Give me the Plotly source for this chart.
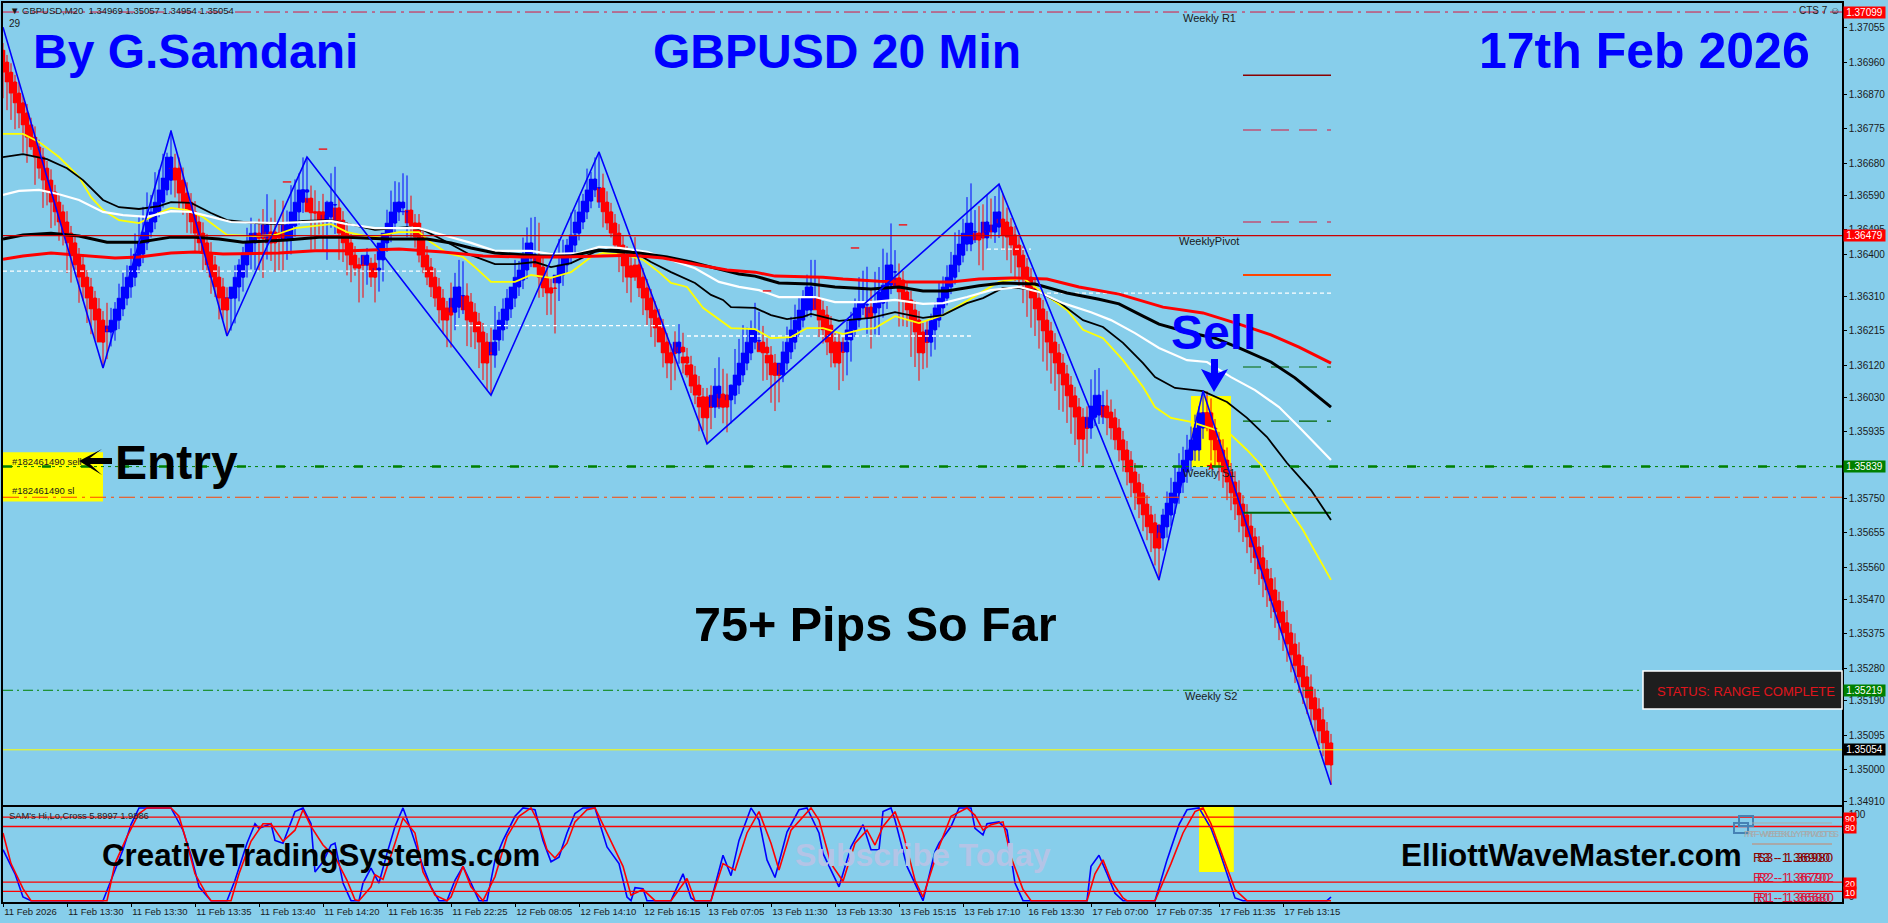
import plotly.graph_objects as go

# all prices below are in points, 36960 means 1.36960
opens = [
36993,36960,36932,36905,36874,36847,36819,36786,36752,36725,
36697,36666,36633,36600,36572,36545,36517,36486,36459,36425,
36398,36364,36337,36306,36276,36245,36218,36212,36218,36245,
36276,36306,36337,36364,36395,36428,36459,36489,36517,36545,
36572,36606,36633,36666,36666,36633,36597,36572,36545,36517,
36486,36459,36431,36398,36364,36337,36306,36306,36306,36337,
36364,36398,36431,36459,36486,36473,36473,36489,36489,36486,
36486,36467,36467,36506,36545,36572,36600,36583,36545,36545,
36545,36517,36531,36564,36556,36522,36486,36459,36425,36398,
36398,36398,36398,36403,36384,36412,36459,36486,36514,36545,
36556,36545,36550,36514,36514,36475,36425,36392,36364,36337,
36306,36273,36279,36267,36281,36312,36312,36295,36267,36240,
36212,36184,36154,36148,36190,36218,36245,36276,36306,36337,
36356,36384,36417,36425,36425,36392,36364,36334,36334,36348,
36370,36398,36425,36453,36486,36517,36545,36575,36606,36611,
36611,36572,36545,36514,36486,36453,36425,36395,36395,36398,
36364,36334,36306,36273,36251,36223,36184,36154,36154,36154,
36170,36143,36121,36093,36065,36032,36032,36004,36004,36029,
36040,36037,36024,36037,36065,36093,36126,36154,36184,36187,
36184,36170,36148,36126,36093,36093,36126,36157,36184,36218,
36245,36273,36273,36306,36306,36273,36259,36231,36184,36184,
36157,36157,36190,36218,36245,36279,36287,36281,36265,36279,
36292,36301,36342,36378,36362,36356,36323,36301,36273,36245,
36212,36184,36184,36218,36245,36279,36306,36337,36364,36398,
36425,36456,36456,36489,36486,36486,36473,36492,36489,36503,
36525,36517,36503,36481,36453,36425,36392,36364,36334,36306,
36276,36245,36215,36184,36154,36126,36096,36065,36035,36004,
35976,35946,35946,35976,35982,36007,36007,35990,35974,35946,
35913,35885,35857,35824,35794,35766,35735,35705,35683,35655,
35641,35672,35705,35738,35766,35796,35824,35857,35885,35885,
35946,35988,35988,35946,35913,35885,35857,35824,35796,35766,
35735,35705,35674,35644,35616,35586,35555,35528,35497,35467,
35436,35406,35378,35347,35317,35287,35256,35228,35198,35167,
35137,35106,35073]
closes = [
36960,36932,36905,36874,36847,36819,36786,36752,36725,36697,
36666,36633,36600,36572,36545,36517,36486,36459,36425,36398,
36364,36337,36306,36276,36245,36184,36217,36229,36245,36276,
36306,36337,36364,36395,36428,36459,36489,36517,36545,36572,
36606,36639,36697,36665,36633,36597,36572,36545,36517,36486,
36459,36431,36398,36364,36337,36306,36273,36307,36337,36364,
36398,36431,36459,36486,36473,36472,36509,36459,36459,36473,
36473,36509,36509,36545,36572,36606,36606,36545,36542,36542,
36522,36536,36572,36565,36522,36486,36459,36425,36398,36389,
36397,36425,36397,36364,36389,36459,36486,36514,36545,36572,
36572,36546,36514,36506,36475,36425,36392,36364,36337,36306,
36273,36245,36259,36306,36337,36313,36273,36245,36240,36212,
36184,36126,36153,36184,36218,36245,36276,36306,36337,36364,
36384,36417,36459,36426,36392,36364,36334,36320,36333,36370,
36398,36425,36453,36481,36517,36545,36575,36606,36636,36612,
36572,36545,36514,36486,36453,36425,36395,36364,36394,36364,
36334,36306,36273,36251,36223,36184,36154,36126,36153,36184,
36157,36126,36093,36062,36037,36004,35974,36003,36037,36062,
36004,36004,36037,36065,36093,36126,36154,36184,36218,36188,
36157,36154,36126,36093,36092,36126,36157,36184,36218,36245,
36273,36306,36337,36307,36273,36245,36218,36184,36154,36126,
36156,36184,36218,36245,36279,36292,36288,36251,36279,36292,
36323,36342,36398,36379,36337,36323,36301,36273,36245,36212,
36154,36183,36218,36245,36279,36306,36337,36364,36398,36425,
36456,36486,36514,36490,36467,36473,36517,36491,36509,36545,
36514,36481,36475,36453,36425,36392,36364,36334,36306,36276,
36245,36215,36184,36154,36126,36096,36065,36035,36004,35976,
35915,35945,35976,36007,36037,36008,35976,35974,35946,35913,
35885,35857,35824,35794,35766,35735,35705,35672,35655,35613,
35677,35705,35738,35766,35796,35824,35857,35885,35913,35946,
35988,35987,35946,35913,35885,35852,35824,35796,35766,35735,
35705,35674,35644,35616,35586,35555,35528,35497,35467,35436,
35406,35378,35347,35317,35287,35256,35228,35198,35167,35137,
35106,35073,35012]
wick_up = [
20,20,25,20,30,20,25,20,30,20,25,20,30,20,25,20,30,20,25,20,30,20,25,20,30,25,
75,50,50,70,70,60,80,90,105,100,110,75,110,90,100,70,75,
40,30,35,30,25,30,25,30,25,30,25,30,25,30,
30,60,50,50,70,70,30,40,80,85,40,90,30,90,40,110,90,80,90,90,35,60,30,50,40,80,105,
25,25,30,25,25,20,25,20,20,25,30,25,65,90,85,55,80,100,40,25,25,25,25,25,25,25,25,25,
70,70,75,95,35,25,25,25,25,25,70,100,50,60,55,30,75,45,90,85,70,105,90,30,30,30,30,100,70,45,90,70,70,50,90,50,60,100,
40,30,25,25,25,25,25,25,80,25,25,25,25,25,25,25,25,25,60,50,40,25,25,25,25,25,25,60,75,80,
70,60,30,100,100,105,70,60,75,80,45,25,25,25,30,60,70,70,70,65,55,65,75,105,60,25,25,25,25,25,
40,60,50,60,85,90,105,50,100,100,120,90,115,
60,40,25,25,25,25,25,25,60,45,50,70,60,60,70,90,70,70,100,110,60,75,80,75,90,80,75,
70,40,25,25,25,25,25,25,25,25,25,25,25,25,25,25,25,25,25,25,25,60,105,100,75,40,45,35,25,25,25,25,
25,25,25,25,25,25,25,25,
45,65,70,75,80,70,70,65,70,60,60,
60,40,25,25,30,35,25,30,35,25,30,35,25,30,35,25,30,35,25,30,35,25,30,35,25,30,35,25,30,35,25,25]
wick_dn = [
100,105,105,100,70,110,105,35,105,60,110,70,100,65,80,65,110,110,40,105,65,100,100,85,55,70,
80,40,30,25,20,20,30,25,20,25,20,15,20,15,15,15,40,
80,80,60,85,60,85,55,75,55,80,55,90,60,70,
90,70,40,40,35,45,75,90,110,60,50,80,90,90,55,40,30,35,30,30,105,100,60,85,105,30,80,
110,80,90,75,30,95,90,55,60,70,60,60,25,25,25,25,20,70,40,60,70,50,50,55,55,70,65,75,
90,50,30,50,100,75,75,100,105,75,115,35,30,30,25,25,25,25,25,25,25,25,85,55,75,60,125,50,30,25,25,25,20,20,20,20,20,55,
70,50,40,40,75,75,75,70,40,55,75,75,75,80,25,70,70,75,75,30,60,40,50,50,100,65,70,60,30,30,
45,70,65,25,25,20,20,20,20,25,80,75,110,100,75,20,20,20,20,20,20,20,20,30,75,65,70,70,40,75,
80,65,60,20,20,20,80,85,60,80,40,25,25,
40,110,95,75,130,130,135,45,70,40,55,20,20,20,20,20,20,20,20,20,30,70,90,30,20,30,30,
75,70,100,100,85,100,110,110,105,110,115,110,115,105,130,105,105,105,105,125,75,70,30,25,25,50,50,60,60,60,60,70,
70,75,70,75,70,70,90,90,
35,30,30,30,30,30,30,30,30,30,30,
50,90,70,85,72,78,78,75,78,75,75,72,75,75,78,78,78,75,78,78,80,78,78,75,75,75,75,75,70,70,20,55]

zigzag_bar = [0,25,42,56,76,122,149,176,249,289,300,332]
zigzag_pts = [37057,36112,36769,36201,36697,36037,36711,35902,36622,35525,36049,34957]

yellow_bar = [0,5,9,14,19,22,25,29,34,39,42,46,50,56,63,68,73,76,82,86,92,99,104,107,111,115,118,122,128,132,137,142,147,150,156,160,164,167,171,175,178,182,188,192,197,201,205,210,215,218,223,229,235,240,244,249,255,260,266,270,275,280,285,288,292,297,307,311,315,320,325,332]
yellow_pts = [36761,36761,36739,36697,36642,36586,36550,36522,36514,36542,36556,36550,36531,36481,36478,36481,36500,36503,36511,36489,36475,36489,36489,36461,36431,36420,36392,36351,36351,36370,36362,36378,36420,36431,36425,36412,36378,36348,36337,36279,36254,36223,36220,36195,36198,36223,36223,36206,36220,36223,36256,36237,36259,36292,36320,36351,36362,36320,36273,36218,36195,36134,36060,36004,35974,35963,35927,35885,35838,35746,35663,35525]
black_thin_bar = [0,5,11,16,20,25,29,34,39,42,47,52,56,63,69,75,82,87,93,98,101,105,110,117,123,128,133,137,142,148,152,157,162,167,173,177,180,182,188,192,196,200,202,209,217,223,230,235,241,245,250,254,258,264,270,275,280,285,288,293,300,306,311,316,321,327,332]
black_thin_pts = [36697,36705,36691,36666,36633,36578,36558,36553,36561,36572,36570,36542,36522,36514,36511,36520,36522,36509,36495,36500,36503,36495,36467,36425,36400,36400,36406,36392,36403,36434,36442,36439,36406,36378,36348,36315,36301,36281,36279,36259,36248,36254,36262,36243,36251,36267,36251,36259,36292,36306,36334,36334,36328,36295,36245,36226,36182,36126,36087,36057,36048,36018,35974,35921,35849,35774,35691]
white_bar = [0,4,9,14,19,25,30,36,42,47,52,57,69,75,82,86,93,99,104,110,117,123,132,137,144,149,154,161,167,173,179,184,189,194,203,208,217,223,230,235,241,247,254,259,265,272,277,283,289,296,301,307,313,319,324,332]
white_pts = [36592,36603,36606,36594,36578,36545,36536,36531,36547,36545,36531,36517,36514,36517,36520,36511,36500,36500,36500,36481,36459,36437,36437,36428,36431,36448,36445,36434,36412,36389,36351,36337,36328,36309,36309,36295,36295,36301,36290,36292,36309,36328,36337,36323,36292,36267,36245,36209,36168,36134,36129,36087,36051,36004,35949,35857]
black_thick_bar = [0,5,12,19,26,34,42,48,54,60,71,79,86,96,106,112,117,123,134,142,149,159,166,172,178,184,188,194,202,208,217,224,230,236,244,250,258,266,274,279,285,289,296,303,309,317,323,332]
black_thick_pts = [36470,36481,36486,36478,36461,36461,36475,36475,36470,36461,36467,36475,36475,36470,36470,36459,36445,36431,36423,36423,36439,36431,36420,36406,36389,36373,36367,36348,36345,36337,36331,36337,36326,36326,36340,36348,36345,36320,36303,36290,36256,36234,36212,36195,36168,36129,36085,36004]
red_thick_bar = [0,5,12,21,28,34,42,48,55,69,78,87,99,110,120,130,140,157,165,174,181,188,193,205,210,219,227,237,244,252,261,269,279,290,300,309,317,324,332]
red_thick_pts = [36414,36423,36431,36423,36417,36420,36431,36434,36428,36431,36437,36437,36442,36434,36423,36420,36420,36425,36417,36398,36384,36378,36367,36364,36359,36353,36351,36351,36359,36362,36359,36337,36317,36281,36265,36234,36204,36170,36126]

# dotted white levels, None breaks the line
white_lvl_bar = [0,110,None,113,168,None,171,242,None,246,257,None,261,332]
white_lvl_pts = [36381,36381,None,36230,36230,None,36201,36201,None,36442,36442,None,36320,36320]
tick_marks_bar = [80,71,225,213,191]
tick_marks_pts = [36719,36628,36509,36445,36326]

# weekly pivot stubs at the right of the candles
stub_bar = [310,332]
stub_levels = [
    (36924,"#8B0000","solid",1.5),
    (36772,"#DC143C","dash",1.2),
    (36517,"#DC143C","dash",1.2),
    (36370,"#FF4500","solid",2),
    (36115,"#006400","dash",1.2),
    (35965,"#006400","dash",1.2),
    (35711,"#006400","solid",2),
]

last_price = 1.35054
sl_price = 1.35754
entry_price = 1.35839
tp_price = 1.35219
pivot_price = 1.36479
top_price = 1.37099

blue_bar = [0,3,5,7,25,27,30,32,34,42,45,47,49,52,56,58,61,63,64,67,68,70,73,75,77,78,80,82,83,85,87,89,90,92,94,96,98,100,102,105,107,109,111,113,115,117,119,121,123,125,128,130,133,135,137,139,141,143,145,148,151,154,156,157,158,160,161,167,170,172,173,177,180,182,184,187,189,191,193,196,199,201,204,205,209,212,215,217,219,220,222,223,226,230,233,234,237,239,242,243,245,246,249,251,253,255,271,272,274,276,278,280,288,291,294,296,299,302,304,306,308,310,331,332]
blue_val = [55,29,4,0,0,22,55,82,100,100,76,49,15,0,0,22,62,83,78,83,65,62,96,100,83,31,42,60,62,19,0,0,19,35,19,51,80,100,76,37,15,0,0,22,37,19,0,0,44,65,91,100,98,65,42,47,73,94,100,100,58,40,4,0,14,13,0,0,29,3,0,0,49,27,65,100,87,44,25,74,98,100,73,51,15,58,82,55,55,96,100,87,37,0,53,62,80,100,100,78,71,83,85,76,19,0,0,37,49,29,8,0,0,44,82,98,100,78,55,29,3,0,0,4]
red_bar = [0,2,5,7,26,28,31,34,36,42,44,46,48,51,52,57,59,62,65,67,70,73,75,77,80,83,86,88,89,92,93,95,98,100,103,105,108,111,112,115,117,120,123,126,129,132,134,136,138,141,143,146,148,152,155,157,160,163,167,171,173,177,180,183,186,189,192,194,197,202,204,207,210,213,216,218,220,223,225,228,230,234,237,241,243,245,247,250,252,255,257,271,273,275,277,280,281,288,292,295,298,300,302,305,308,311,332]
red_val = [73,40,13,0,0,40,69,94,100,100,91,62,29,6,0,0,29,64,83,83,64,76,98,80,60,47,22,1,0,15,28,23,62,89,73,31,6,0,4,37,15,0,26,69,91,100,83,55,46,62,85,98,100,65,37,6,12,0,0,24,0,0,40,33,73,96,62,33,76,100,87,40,21,62,76,60,80,96,73,22,4,58,91,100,92,76,82,85,47,12,0,0,29,44,22,3,0,0,40,73,96,100,83,47,12,0,0]
osc_levels = [90,80,20,10]

x_tick_bar = [0,16,32,48,64,80,96,112,128,144,160,176,192,208,224,240,256,272,288,304,320]
x_tick_text = ["11 Feb 2026","11 Feb 13:30","11 Feb 13:30","11 Feb 13:35","11 Feb 13:40","11 Feb 14:20","11 Feb 16:35","11 Feb 22:25","12 Feb 08:05","12 Feb 14:10","12 Feb 16:15","13 Feb 07:05","13 Feb 11:30","13 Feb 13:30","13 Feb 15:15","13 Feb 17:10","16 Feb 13:30","17 Feb 07:00","17 Feb 07:35","17 Feb 11:35","17 Feb 13:15"]
y_tick_val = [1.37055,1.36960,1.36870,1.36775,1.36680,1.36590,1.36495,1.36426,1.36310,1.36215,1.36120,1.36030,1.35935,1.35750,1.35655,1.35560,1.35470,1.35375,1.35280,1.35190,1.35095,1.35000,1.34910]
y_tick_text = ["1.37055","1.36960","1.36870","1.36775","1.36680","1.36590","1.36495","1.36400","1.36310","1.36215","1.36120","1.36030","1.35935","1.35750","1.35655","1.35560","1.35470","1.35375","1.35280","1.35190","1.35095","1.35000","1.34910"]

assert len(opens) == len(closes) == len(wick_up) == len(wick_dn) == 333
assert len(blue_bar) == len(blue_val) and len(red_bar) == len(red_val)


def price(p):
    return None if p is None else 1 + p / 100000


def pxx(v):
    return v / 1888


def pxy(v):
    return 1 - v / 923


BG = "#87CEEB"
ARIAL = "Liberation Sans, Arial, sans-serif"

bars = list(range(len(opens)))
o = [price(v) for v in opens]
c = [price(v) for v in closes]
h = [price(max(a, b) + u) for a, b, u in zip(opens, closes, wick_up)]
l = [price(min(a, b) - d) for a, b, d in zip(opens, closes, wick_dn)]

fig = go.Figure()

# thick bodies, wider than the bar spacing, sit left of the wick like in the terminal
body_col = ["#0000FF" if b > a else "#FF0000" for a, b in zip(opens, closes)]
fig.add_trace(go.Bar(x=bars, base=[min(a, b) for a, b in zip(o, c)], y=[abs(a - b) for a, b in zip(o, c)],
                     width=2, offset=-1.5, marker=dict(color=body_col, line=dict(color=body_col, width=0.5))))
fig.add_trace(go.Candlestick(x=bars, open=o, high=h, low=l, close=c, whiskerwidth=0,
                             increasing=dict(line=dict(color="#0000FF", width=1), fillcolor="#0000FF"),
                             decreasing=dict(line=dict(color="#FF0000", width=1), fillcolor="#FF0000")))


def line(xs, ys, color, width, dash="solid", xaxis="x", yaxis="y"):
    fig.add_trace(go.Scatter(x=xs, y=ys, mode="lines", line=dict(color=color, width=width, dash=dash),
                             xaxis=xaxis, yaxis=yaxis, connectgaps=False))


line(white_lvl_bar, [price(v) for v in white_lvl_pts], "white", 1.3, "4px,3px")
for lv, col, ds, w in stub_levels:
    line(stub_bar, [price(lv), price(lv)], col, w, "18px,10px" if ds == "dash" else "solid")
line(yellow_bar, [price(v) for v in yellow_pts], "#FFFF00", 1.8)
line(black_thin_bar, [price(v) for v in black_thin_pts], "black", 1.8)
line(white_bar, [price(v) for v in white_pts], "white", 2.2)
line(black_thick_bar, [price(v) for v in black_thick_pts], "black", 3)
line(red_thick_bar, [price(v) for v in red_thick_pts], "#FF0000", 3)
line(zigzag_bar, [price(v) for v in zigzag_pts], "#0000FF", 1.6)

fig.add_trace(go.Scatter(x=tick_marks_bar, y=[price(v) for v in tick_marks_pts], mode="markers",
                         marker=dict(symbol="line-ew", size=6, line=dict(color="#FF0000", width=1.3))))
fig.add_trace(go.Scatter(x=[302], y=[entry_price], mode="markers",
                         marker=dict(symbol="star", size=7, color="#FF0000")))

line(blue_bar, blue_val, "#0000FF", 1.6, xaxis="x2", yaxis="y2")
line(red_bar, red_val, "#FF0000", 1.6, xaxis="x2", yaxis="y2")

shapes = []


def hline(y, color, width, dash="solid"):
    shapes.append(dict(type="line", xref="paper", yref="y", x0=pxx(3), x1=pxx(1842), y0=y, y1=y,
                       line=dict(color=color, width=width, dash=dash)))


def polygon(points, color):
    path = "M " + " L ".join("%f,%f" % (pxx(a), pxy(b)) for a, b in points) + " Z"
    shapes.append(dict(type="path", xref="paper", yref="paper", path=path, fillcolor=color, line=dict(width=0)))


hline(top_price, "#DC143C", 1, "16px,5px,3px,5px")
hline(pivot_price, "#CC0000", 1.2)
hline(entry_price, "#008000", 1, "3px,4px")
hline(entry_price, "#008000", 2.5, "9px,30px")
hline(sl_price, "#FF4500", 1, "16px,5px,3px,5px")
hline(tp_price, "#008000", 1, "10px,4px,2px,4px")
hline(last_price, "#FFFF00", 1)

shapes.append(dict(type="rect", xref="x", yref="y", x0=297, x1=307, y0=1.35838, y1=1.36035, layer="below",
                   fillcolor="#FFFF00", line=dict(width=0)))
shapes.append(dict(type="rect", xref="x", yref="y", x0=0, x1=25, y0=1.35742, y1=1.35879, layer="below",
                   fillcolor="#FFFF00", line=dict(width=0)))
shapes.append(dict(type="rect", xref="x2", yref="y2", x0=299, x1=307.7, y0=31, y1=101, layer="below",
                   fillcolor="#FFFF00", line=dict(width=0)))
for lv in osc_levels:
    shapes.append(dict(type="line", xref="paper", yref="y2", x0=pxx(3), x1=pxx(1842), y0=lv, y1=lv,
                       line=dict(color="#FF0000", width=1.3)))
# status box
shapes.append(dict(type="rect", xref="paper", yref="paper", x0=pxx(1643), x1=pxx(1842), y0=pxy(709), y1=pxy(671),
                   fillcolor="#1E1E1E", line=dict(color="white", width=1.5)))
# pivot panel bits, bottom right
shapes.append(dict(type="rect", xref="paper", yref="paper", x0=pxx(1739), x1=pxx(1753), y0=pxy(826), y1=pxy(816),
                   line=dict(color="#4682B4", width=2)))
shapes.append(dict(type="rect", xref="paper", yref="paper", x0=pxx(1734), x1=pxx(1748), y0=pxy(833), y1=pxy(823),
                   line=dict(color="#4682B4", width=2)))
shapes.append(dict(type="line", xref="paper", yref="paper", x0=pxx(1752), x1=pxx(1832), y0=pxy(823), y1=pxy(823),
                   line=dict(color="#A9A9A9", width=1)))
shapes.append(dict(type="line", xref="paper", yref="paper", x0=pxx(1752), x1=pxx(1832), y0=pxy(844), y1=pxy(844),
                   line=dict(color="#A9A9A9", width=2)))
# the two hand drawn arrows
polygon([(1211, 359), (1218, 359), (1218, 373), (1228, 369), (1214, 392), (1201, 369), (1211, 373)], "#0000FF")
polygon([(79, 461), (102, 449), (90, 458), (112, 458), (112, 464), (90, 464), (102, 475)], "black")

notes = []


def text(x, y, s, size, color="black", bold=False, family=ARIAL, anchor="left", **kw):
    notes.append(dict(xref="paper", yref="paper", x=pxx(x), y=pxy(y), text="<b>%s</b>" % s if bold else s,
                      showarrow=False, xanchor=anchor, yanchor="middle",
                      font=dict(size=size, color=color, family=family), **kw))


text(31, 51, "By G.Samdani", 48, "#0000FF", True)
text(837, 51, "GBPUSD 20 Min", 48, "#0000FF", True, anchor="center")
text(1644, 51, "17th Feb 2026", 50, "#0000FF", True, anchor="center")
text(1213, 332, "Sell", 48, "#0000FF", True, anchor="center")
text(113, 463, "Entry", 48, "black", True)
text(875, 624, "75+ Pips So Far", 48.5, "black", True, anchor="center")
text(100, 855, "CreativeTradingSystems.com", 31.3, "black", True)
text(1399, 855, "ElliottWaveMaster.com", 31.4, "black", True)
text(793, 855, "Subscribe Today", 32, "#B4C4E6", True)

text(8, 11, "\u25bc GBPUSD,M20  1.34969 1.35057 1.34954 1.35054", 9.5, "#1a1a1a")
text(7, 24, "29", 10, "#1a1a1a")
text(1797, 11, "CTS 7 \u263a", 10, "#1a1a1a")
text(10, 462, "#182461490 sell", 9.5, "#1a1a1a")
text(10, 490, "#182461490 sl", 9.5, "#1a1a1a")
text(1209, 18, "Weekly R1", 11, "#1a1a1a", anchor="center")
text(1209, 241, "WeeklyPivot", 11, "#1a1a1a", anchor="center")
text(1209, 473, "Weekly S1", 11, "#1a1a1a", anchor="center")
text(1211, 696, "Weekly S2", 11, "#1a1a1a", anchor="center")
text(7, 816, "SAM's Hi,Lo,Cross 5.8997 1.9886", 9.3, "#1a1a1a")
text(1655, 691, "STATUS: RANGE COMPLETE", 13, "#E0141C")

text(1742, 833, "PF-WEEKLY PIVOTS", 9.5, "#A9A9A9")
text(1745, 833, "RF-WEEKLY PIVOTS", 9.5, "#A9A9A9")
for py, col, a, b in [(857, "#8B0000", "R3 - 1.36900", "S3 - 1.36980"),
                      (877, "#DC143C", "R2 - 1.36790", "R2 - 1.36702"),
                      (897, "#DC143C", "R1 - 1.36580", "R1 - 1.36680")]:
    text(1751, py, a, 13.3, col)
    text(1755, py, b, 13.3, col)


def tag(y, s, bg, yref="y", x=1864.5, w=41, size=10):
    notes.append(dict(xref="paper", yref=yref, x=pxx(x), y=y, text=s, showarrow=False, xanchor="center",
                      yanchor="middle", bgcolor=bg, width=w, height=11, borderpad=0,
                      font=dict(size=size, color="white", family=ARIAL)))


tag(top_price, "1.37099", "#FF0000")
tag(pivot_price, "1.36479", "#FF0000")
tag(entry_price, "1.35839", "#008000")
tag(tp_price, "1.35219", "#008000")
tag(last_price, "1.35054", "#000000")
for lv, txt in [(89, "90"), (79, "80"), (19, "20"), (8.5, "10")]:
    tag(lv, txt, "#FF0000", yref="y2", x=1850, w=12, size=9)

axis_line = dict(showline=True, mirror=True, linecolor="black", linewidth=1.5, showgrid=False, zeroline=False,
                 automargin=False)
tick_font = dict(family=ARIAL, size=10, color="#1a1a1a")

fig.update_layout(
    template="none", barmode="overlay",
    width=1888, height=923, margin=dict(l=0, r=0, t=0, b=0), showlegend=False,
    paper_bgcolor=BG, plot_bgcolor=BG, shapes=shapes, annotations=notes,
    xaxis=dict(domain=[pxx(3), pxx(1842)], range=[0, 459.75], anchor="y", showticklabels=False, ticks="",
               rangeslider=dict(visible=False), **axis_line),
    xaxis2=dict(domain=[pxx(3), pxx(1842)], range=[0, 459.75], anchor="y2", tickvals=x_tick_bar,
                ticktext=x_tick_text, ticks="outside", ticklen=3, tickcolor="black", tickangle=0,
                ticklabelposition="outside right", tickfont=dict(family=ARIAL, size=9.5, color="#1a1a1a"), **axis_line),
    yaxis=dict(domain=[pxy(805), pxy(3)], range=[1.34901, 1.37124], side="right", anchor="x",
               tickvals=y_tick_val, ticktext=y_tick_text, ticks="outside", ticklen=3, tickcolor="black",
               tickfont=tick_font, **axis_line),
    yaxis2=dict(domain=[pxy(902), pxy(807)], range=[-1.4, 101], side="right", anchor="x2",
                tickvals=[93, 4], ticktext=["100", "0"], ticks="outside", ticklen=3, tickcolor="black",
                tickfont=tick_font, **axis_line),
)

fig.write_html("out.html", post_script="document.body.style.margin='0';", config=dict(displayModeBar=False))
